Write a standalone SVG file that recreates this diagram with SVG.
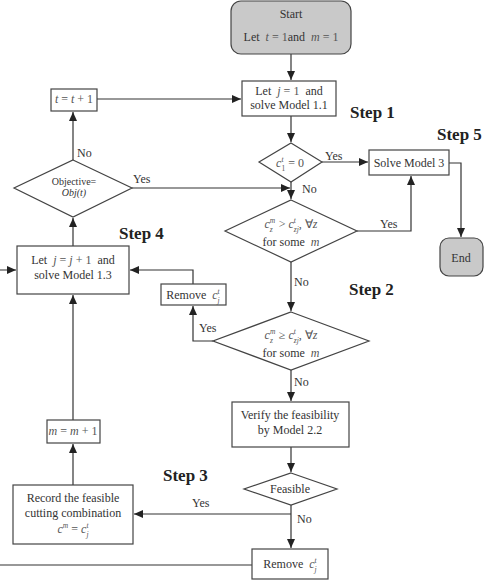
<svg xmlns="http://www.w3.org/2000/svg" width="484" height="586" viewBox="0 0 484 586">
<style>
text{font-family:"Liberation Serif","Times New Roman",serif;font-size:12px;fill:#333}
.c{text-anchor:middle}
.i{font-style:italic}
.m{fill:#555}
.s{font-size:7.5px}
.step{font-size:17px;font-weight:bold;fill:#222}
.obj{font-size:10px}
.box{fill:#fff;stroke:#444;stroke-width:1.2}
.term{fill:#c9c9c9;stroke:#444;stroke-width:1.2}
.ln{fill:none;stroke:#333;stroke-width:1.2}
</style>
<defs>
<marker id="ar" markerUnits="userSpaceOnUse" markerWidth="10" markerHeight="8" refX="9" refY="4" orient="auto">
<path d="M0,0 L9,4 L0,8 Z" fill="#222"/>
</marker>
</defs>
<g id="connectors" class="ln">
<path class="ln" d="M291,54 V80" marker-end="url(#ar)"/>
<path class="ln" d="M97,99 H241" marker-end="url(#ar)"/>
<path class="ln" d="M291,116 V142" marker-end="url(#ar)"/>
<path class="ln" d="M322,162 H368" marker-end="url(#ar)"/>
<path class="ln" d="M291,182 V199" marker-end="url(#ar)"/>
<path class="ln" d="M132,188 H290" marker-end="url(#ar)"/>
<path class="ln" d="M73,160 V112" marker-end="url(#ar)"/>
<path class="ln" d="M357,231 H411 V176" marker-end="url(#ar)"/>
<path class="ln" d="M449,163 H461 V237" marker-end="url(#ar)"/>
<path class="ln" d="M291,262 V311" marker-end="url(#ar)"/>
<path class="ln" d="M213,341 H193 V306" marker-end="url(#ar)"/>
<path class="ln" d="M193,284 V270 H130" marker-end="url(#ar)"/>
<path class="ln" d="M252,565 H-3 V270 H16" marker-end="url(#ar)"/>
<path class="ln" d="M73,246 V218" marker-end="url(#ar)"/>
<path class="ln" d="M291,370 V401" marker-end="url(#ar)"/>
<path class="ln" d="M291,447 V472" marker-end="url(#ar)"/>
<path class="ln" d="M291,505 V548" marker-end="url(#ar)"/>
<path class="ln" d="M291,514 H134" marker-end="url(#ar)"/>
<path class="ln" d="M73,485 V444" marker-end="url(#ar)"/>
<path class="ln" d="M73,420 V295" marker-end="url(#ar)"/>
</g>
<g id="labels">
<text x="77" y="157">No</text>
<text x="133" y="183">Yes</text>
<text x="325" y="160">Yes</text>
<text x="302" y="193">No</text>
<text x="380" y="228">Yes</text>
<text x="294" y="286">No</text>
<text x="199" y="332">Yes</text>
<text x="294" y="386">No</text>
<text x="192" y="507">Yes</text>
<text x="297" y="523">No</text>
<text class="step" x="350" y="118">Step 1</text>
<text class="step" x="349" y="295">Step 2</text>
<text class="step" x="163" y="481">Step 3</text>
<text class="step" x="119" y="239">Step 4</text>
<text class="step" x="437" y="140">Step 5</text>
</g>
<g id="start">
<rect class="term" x="231" y="1" width="120" height="53" rx="10"/>
<text class="c" x="291" y="18">Start</text>
<text class="c" x="291" y="41" xml:space="preserve">Let  <tspan class="i m">t</tspan><tspan class="m"> = 1</tspan>and  <tspan class="i m">m</tspan><tspan class="m"> = 1</tspan></text>
</g>
<g id="letj1">
<rect class="box" x="242" y="81" width="94" height="35"/>
<text class="c" x="289" y="95" xml:space="preserve">Let  <tspan class="i m">j</tspan><tspan class="m"> = 1</tspan>  and</text>
<text class="c" x="289" y="109">solve Model 1.1</text>
</g>
<g id="tinc">
<rect class="box" x="51" y="89" width="46" height="22"/>
<text class="c m" x="74" y="103" xml:space="preserve"><tspan class="i">t</tspan> = <tspan class="i">t</tspan> + 1</text>
</g>
<g id="c1zero">
<polygon class="box" points="291,143 322,162 291,182 259,162"/>
<text class="c m" x="290" y="167" xml:space="preserve"><tspan class="i">c</tspan><tspan class="s i" dy="-5.5">t</tspan><tspan class="s" dx="-2.1" dy="9.5">1</tspan><tspan dy="-4"> = 0</tspan></text>
</g>
<g id="solve3">
<rect class="box" x="369" y="150" width="80" height="25"/>
<text class="c" x="409" y="167">Solve Model 3</text>
</g>
<g id="end">
<rect class="term" x="440" y="238" width="43" height="38" rx="9"/>
<text class="c" x="461" y="262">End</text>
</g>
<g id="objective">
<polygon class="box" points="73,160 132,188 73,217 14,188"/>
<text class="c obj" x="74" y="185">Objective=</text>
<text class="c obj i" x="74" y="196">Obj(t)</text>
</g>
<g id="cond2">
<polygon class="box" points="291,200 357,231 291,262 225,231"/>
<text class="c m" x="291" y="228" xml:space="preserve"><tspan class="i">c</tspan><tspan class="s i" dy="-5.5">m</tspan><tspan class="s i" dx="-5.4" dy="9.5">z</tspan><tspan dy="-4">  &gt; </tspan><tspan class="i">c</tspan><tspan class="s i" dy="-5.5">t</tspan><tspan class="s i" dx="-2.1" dy="9.5">zj</tspan><tspan dy="-4">, ∀</tspan><tspan class="i">z</tspan></text>
<text class="c" x="291" y="246" xml:space="preserve">for some  <tspan class="i m">m</tspan></text>
</g>
<g id="letjinc">
<rect class="box" x="17" y="246" width="112" height="48"/>
<text class="c" x="73" y="264" xml:space="preserve">Let  <tspan class="i m">j</tspan><tspan class="m"> = </tspan><tspan class="i m">j</tspan><tspan class="m"> + 1</tspan>  and</text>
<text class="c" x="73" y="279">solve Model 1.3</text>
</g>
<g id="remove1">
<rect class="box" x="161" y="284" width="65" height="21"/>
<text class="c" x="193" y="299" xml:space="preserve">Remove  <tspan class="i m">c</tspan><tspan class="s i m" dy="-5.5">t</tspan><tspan class="s i m" dx="-2.1" dy="9.5">j</tspan></text>
</g>
<g id="cond3">
<polygon class="box" points="291,312 369,341 291,370 213,341"/>
<text class="c m" x="291" y="339" xml:space="preserve"><tspan class="i">c</tspan><tspan class="s i" dy="-5.5">m</tspan><tspan class="s i" dx="-5.4" dy="9.5">z</tspan><tspan dy="-4">  ≥ </tspan><tspan class="i">c</tspan><tspan class="s i" dy="-5.5">t</tspan><tspan class="s i" dx="-2.1" dy="9.5">zj</tspan><tspan dy="-4">, ∀</tspan><tspan class="i">z</tspan></text>
<text class="c" x="291" y="357" xml:space="preserve">for some  <tspan class="i m">m</tspan></text>
</g>
<g id="verify">
<rect class="box" x="232" y="402" width="117" height="45"/>
<text class="c" x="290" y="419">Verify the feasibility</text>
<text class="c" x="290" y="434">by Model 2.2</text>
</g>
<g id="feasible">
<polygon class="box" points="291,473 337,489 291,505 244,489"/>
<text class="c" x="290" y="493">Feasible</text>
</g>
<g id="minc">
<rect class="box" x="47" y="420" width="53" height="23"/>
<text class="c m" x="73" y="435" xml:space="preserve"><tspan class="i">m</tspan> = <tspan class="i">m</tspan> + 1</text>
</g>
<g id="record">
<rect class="box" x="13" y="485" width="120" height="59"/>
<text class="c" x="73" y="502">Record the feasible</text>
<text class="c" x="73" y="517">cutting combination</text>
<text class="c m" x="73" y="533" xml:space="preserve"><tspan class="i">c</tspan><tspan class="s i" dy="-5.5">m</tspan><tspan dy="5.5"> = </tspan><tspan class="i">c</tspan><tspan class="s i" dy="-5.5">t</tspan><tspan class="s i" dx="-2.1" dy="9.5">j</tspan></text>
</g>
<g id="remove2">
<rect class="box" x="252" y="549" width="76" height="30"/>
<text class="c" x="290" y="568" xml:space="preserve">Remove  <tspan class="i m">c</tspan><tspan class="s i m" dy="-5.5">t</tspan><tspan class="s i m" dx="-2.1" dy="9.5">j</tspan></text>
</g>
</svg>
